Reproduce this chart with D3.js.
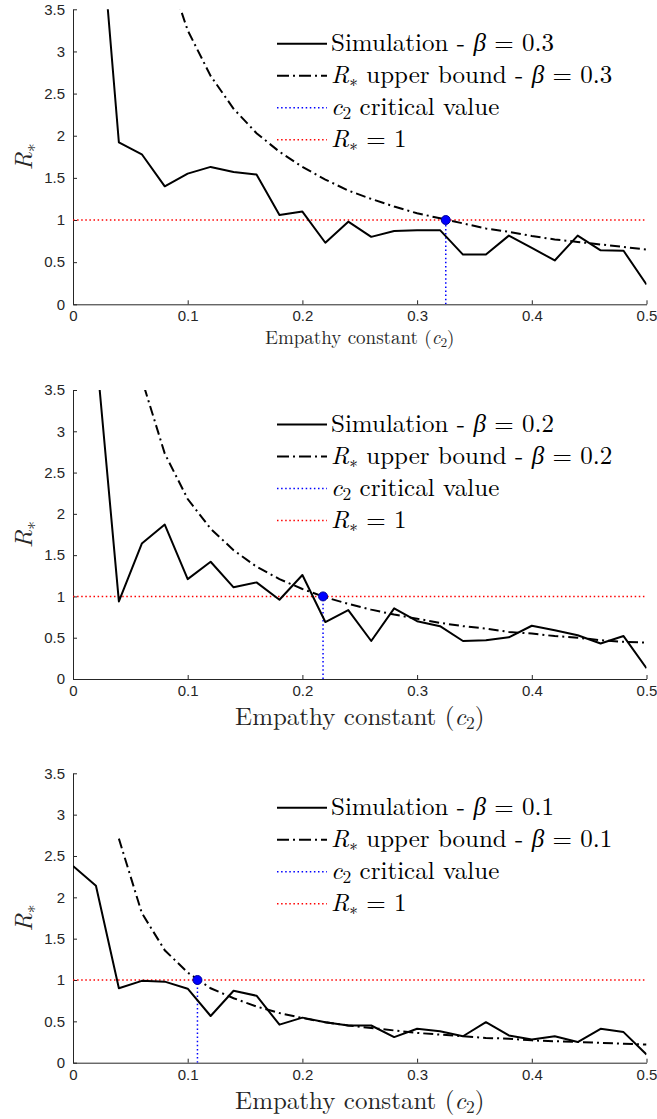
<!DOCTYPE html>
<html>
<head>
<meta charset="utf-8">
<script src="https://cdn.jsdelivr.net/npm/d3@7"></script>
<style>
  body { margin: 0; background: #fff; }
  text { white-space: pre; }
</style>
</head>
<body>
<div id="chart"></div>
<script>
// empathy constant values (x)
const c2 = [0, 0.02, 0.04, 0.06, 0.08, 0.10, 0.12, 0.14, 0.16, 0.18, 0.20, 0.22, 0.24,
  0.26, 0.28, 0.30, 0.32, 0.34, 0.36, 0.38, 0.40, 0.42, 0.44, 0.46, 0.48, 0.50];

// simulation results
const sim03 = [null, 5.2, 1.92, 1.78, 1.40, 1.55, 1.63, 1.57, 1.54, 1.06, 1.10, 0.73, 0.98,
  0.80, 0.87, 0.88, 0.88, 0.59, 0.59, 0.815, 0.67, 0.52, 0.815, 0.64, 0.635, 0.235];
const sim02 = [null, 4.0, 0.94, 1.64, 1.87, 1.21, 1.42, 1.11, 1.17, 0.96, 1.26, 0.69, 0.835,
  0.46, 0.855, 0.70, 0.64, 0.46, 0.47, 0.505, 0.645, 0.59, 0.53, 0.43, 0.52, 0.13];
const sim01 = [2.38, 2.14, 0.90, 0.99, 0.98, 0.895, 0.565, 0.87, 0.81, 0.46, 0.545, 0.49, 0.45,
  0.45, 0.31, 0.41, 0.38, 0.32, 0.49, 0.33, 0.28, 0.32, 0.25, 0.41, 0.37, 0.10];

// R* upper bound
const bound03 = [null, null, 8.13, 5.42, 4.06, 3.25, 2.71, 2.32, 2.03, 1.81, 1.63, 1.48, 1.35,
  1.25, 1.16, 1.08, 1.02, 0.96, 0.90, 0.86, 0.81, 0.77, 0.74, 0.71, 0.68, 0.65];
const bound02 = [null, null, 5.45, 3.63, 2.73, 2.18, 1.82, 1.56, 1.36, 1.21, 1.09, 0.99, 0.91,
  0.84, 0.78, 0.73, 0.68, 0.64, 0.61, 0.57, 0.55, 0.52, 0.50, 0.47, 0.45, 0.44];
const bound01 = [null, null, 2.71, 1.81, 1.36, 1.09, 0.90, 0.78, 0.68, 0.60, 0.54, 0.49, 0.45,
  0.42, 0.39, 0.36, 0.34, 0.32, 0.30, 0.29, 0.27, 0.26, 0.25, 0.24, 0.23, 0.22];

const betas = ["0.3", "0.2", "0.1"];
const criticalC2 = [0.325, 0.218, 0.1085];
const threshold = 1;

const xTicks = [0, 0.1, 0.2, 0.3, 0.4, 0.5];
const yTicks = [0, 0.5, 1, 1.5, 2, 2.5, 3, 3.5];
const xTickLabels = ["0", "0.1", "0.2", "0.3", "0.4", "0.5"];
const yTickLabels = ["0", "0.5", "1", "1.5", "2", "2.5", "3", "3.5"];

const simSeries = [sim03, sim02, sim01];
const boundSeries = [bound03, bound02, bound01];

// layout of the three panels
const W = 657, H = 1119;
const left = 73, right = 646.5;
const tops = [9.3, 390, 773.3];
const bottoms = [304.3, 679, 1062.7];
const xlabelSize = [19, 25, 25];
const xlabelOffset = [40, 46, 46];

const serif = "'Latin Modern Roman', 'Liberation Serif', serif";
const sans = "'Liberation Sans', Arial, sans-serif";
const axisColor = "#262626";
const dashDot = "10,4,2,4";
const dotted = "1.5,2.6";

const svg = d3.select("#chart")
  .append("svg")
  .attr("width", W)
  .attr("height", H);

const defs = svg.append("defs");

const x = d3.scaleLinear().domain([0, 0.5]).range([left, right]);

function mathText(sel, parts, size) {
  // parts: [text, style] where style is "n" normal, "i" italic, "s" subscript
  parts.forEach(([t, s]) => {
    const ts = sel.append("tspan").text(t);
    if (s === "i") ts.attr("font-style", "italic");
    if (s === "s") {
      ts.attr("font-size", size * 0.7).attr("baseline-shift", -size * 0.16);
    }
  });
}

for (let p = 0; p < 3; p++) {
  const y = d3.scaleLinear().domain([0, 3.5]).range([bottoms[p], tops[p]]);
  const g = svg.append("g");

  defs.append("clipPath")
    .attr("id", `clip${p}`)
    .append("rect")
    .attr("x", left)
    .attr("y", tops[p])
    .attr("width", right - left)
    .attr("height", bottoms[p] - tops[p]);

  // axes
  const xAxis = g.append("g")
    .attr("transform", `translate(0,${bottoms[p]})`)
    .call(d3.axisBottom(x).tickValues(xTicks)
      .tickFormat((d, i) => xTickLabels[i])
      .tickSizeInner(-4).tickSizeOuter(0).tickPadding(6.5));

  const yAxis = g.append("g")
    .attr("transform", `translate(${left},0)`)
    .call(d3.axisLeft(y).tickValues(yTicks)
      .tickFormat((d, i) => yTickLabels[i])
      .tickSizeInner(-4).tickSizeOuter(0).tickPadding(8));

  [xAxis, yAxis].forEach(a => {
    a.attr("font-size", 15).attr("font-family", sans);
    a.select(".domain").attr("stroke", axisColor).attr("stroke-width", 1);
    a.selectAll(".tick line").attr("stroke", axisColor).attr("stroke-width", 1);
    a.selectAll(".tick text").attr("fill", axisColor);
  });

  // axis labels
  const xl = g.append("text")
    .attr("x", (left + right) / 2)
    .attr("y", bottoms[p] + xlabelOffset[p])
    .attr("text-anchor", "middle")
    .attr("font-family", serif)
    .attr("font-size", xlabelSize[p])
    .attr("fill", axisColor);
  mathText(xl, [["Empathy constant (", "n"], ["c", "i"], ["2", "s"], [")", "n"]], xlabelSize[p]);

  const yl = g.append("text")
    .attr("transform", `translate(32,${(tops[p] + bottoms[p]) / 2}) rotate(-90)`)
    .attr("text-anchor", "middle")
    .attr("font-family", serif)
    .attr("font-size", 25)
    .attr("fill", axisColor);
  mathText(yl, [["R", "i"], ["\u2217", "s"]], 25);

  const plot = g.append("g").attr("clip-path", `url(#clip${p})`);

  // R* = 1 reference line
  plot.append("line")
    .attr("x1", x(0)).attr("x2", x(0.5))
    .attr("y1", y(threshold)).attr("y2", y(threshold))
    .attr("stroke", "#ff0000")
    .attr("stroke-width", 1.5)
    .attr("stroke-dasharray", dotted);

  // critical value line
  plot.append("line")
    .attr("x1", x(criticalC2[p])).attr("x2", x(criticalC2[p]))
    .attr("y1", y(0)).attr("y2", y(threshold))
    .attr("stroke", "#0000ff")
    .attr("stroke-width", 1.5)
    .attr("stroke-dasharray", dotted);

  const line = d3.line()
    .defined(d => d[1] != null)
    .x(d => x(d[0]))
    .y(d => y(d[1]));

  plot.append("path")
    .datum(c2.map((c, i) => [c, boundSeries[p][i]]))
    .attr("fill", "none")
    .attr("stroke", "#000")
    .attr("stroke-width", 2)
    .attr("stroke-dasharray", dashDot)
    .attr("d", line);

  plot.append("path")
    .datum(c2.map((c, i) => [c, simSeries[p][i]]))
    .attr("fill", "none")
    .attr("stroke", "#000")
    .attr("stroke-width", 2)
    .attr("stroke-linejoin", "round")
    .attr("d", line);

  plot.append("circle")
    .attr("cx", x(criticalC2[p]))
    .attr("cy", y(threshold))
    .attr("r", 4.5)
    .attr("fill", "#0000ff")
    .attr("stroke", "#00009a")
    .attr("stroke-width", 1);

  // legend
  const legendItems = [
    { stroke: "#000", dash: null, parts: [["Simulation - ", "n"], ["\u03b2", "i"], [" = " + betas[p], "n"]] },
    { stroke: "#000", dash: "12,4,2,4", parts: [["R", "i"], ["\u2217", "s"], [" upper bound - ", "n"], ["\u03b2", "i"], [" = " + betas[p], "n"]] },
    { stroke: "#0000ff", dash: dotted, width: 1.5, parts: [["c", "i"], ["2", "s"], [" critical value", "n"]] },
    { stroke: "#ff0000", dash: dotted, width: 1.5, parts: [["R", "i"], ["\u2217", "s"], [" = 1", "n"]] }
  ];

  const legend = g.selectAll(".legend")
    .data(legendItems)
    .join("g")
    .attr("class", "legend")
    .attr("transform", (d, i) => `translate(0,${tops[p] + 34.5 + i * 32})`);

  legend.append("line")
    .attr("x1", 277).attr("x2", 327)
    .attr("stroke", d => d.stroke)
    .attr("stroke-width", d => d.width || 2)
    .attr("stroke-dasharray", d => d.dash);

  legend.append("text")
    .attr("x", 331)
    .attr("y", 7.5)
    .attr("font-family", serif)
    .attr("font-size", 25)
    .attr("fill", "#000")
    .each(function (d) { mathText(d3.select(this), d.parts, 25); });
}
</script>
</body>
</html>
